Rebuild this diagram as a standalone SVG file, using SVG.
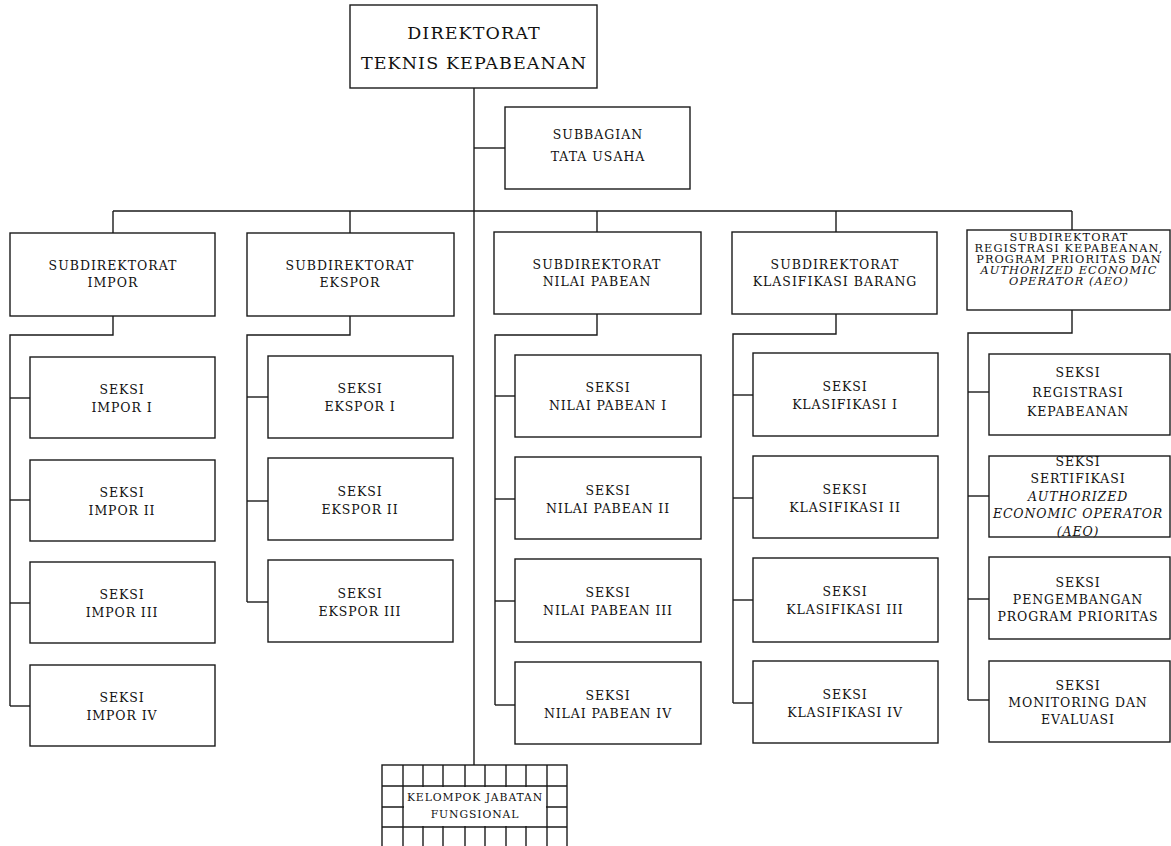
<svg xmlns="http://www.w3.org/2000/svg" width="1171" height="846" viewBox="0 0 1171 846">
  <style>
    .box { fill: #ffffff; stroke: #1a1a1a; stroke-width: 1.4; }
    .ln { fill: none; stroke: #1a1a1a; stroke-width: 1.4; }
    .t { font-family: "DejaVu Serif", "Liberation Serif", serif; fill: #111; text-anchor: middle; }
    .title { font-size: 17.5px; letter-spacing: 1.1px; }
    .sub { font-size: 12.5px; letter-spacing: 1px; }
    .sk { font-size: 12.5px; letter-spacing: 0.9px; }
    .sm { font-size: 11.3px; letter-spacing: 1.1px; }
    .it { font-style: italic; }
  </style>

  <!-- connectors -->
  <g id="connectors">
    <!-- main trunk from the directorate down to the functional group -->
    <line class="ln" x1="474" y1="88" x2="474" y2="765"/>
    <!-- administrative sub-unit -->
    <line class="ln" x1="474" y1="148" x2="505" y2="148"/>
    <!-- horizontal bus to the five sub-directorates -->
    <line class="ln" x1="113" y1="211" x2="1072" y2="211"/>
    <line class="ln" x1="113" y1="211" x2="113" y2="233"/>
    <line class="ln" x1="350" y1="211" x2="350" y2="233"/>
    <line class="ln" x1="597" y1="211" x2="597" y2="232"/>
    <line class="ln" x1="836" y1="211" x2="836" y2="232"/>
    <line class="ln" x1="1072" y1="211" x2="1072" y2="230"/>

    <!-- Impor sections -->
    <polyline class="ln" points="113,316 113,335 10,335 10,706"/>
    <line class="ln" x1="10" y1="398" x2="30" y2="398"/>
    <line class="ln" x1="10" y1="500" x2="30" y2="500"/>
    <line class="ln" x1="10" y1="603" x2="30" y2="603"/>
    <line class="ln" x1="10" y1="706" x2="30" y2="706"/>

    <!-- Ekspor sections -->
    <polyline class="ln" points="350,316 350,335 247,335 247,602"/>
    <line class="ln" x1="247" y1="397" x2="268" y2="397"/>
    <line class="ln" x1="247" y1="501" x2="268" y2="501"/>
    <line class="ln" x1="247" y1="602" x2="268" y2="602"/>

    <!-- Nilai Pabean sections -->
    <polyline class="ln" points="597,314 597,335 495,335 495,705"/>
    <line class="ln" x1="495" y1="396" x2="515" y2="396"/>
    <line class="ln" x1="495" y1="499" x2="515" y2="499"/>
    <line class="ln" x1="495" y1="601" x2="515" y2="601"/>
    <line class="ln" x1="495" y1="705" x2="515" y2="705"/>

    <!-- Klasifikasi sections -->
    <polyline class="ln" points="836,314 836,334 733,334 733,703"/>
    <line class="ln" x1="733" y1="395" x2="753" y2="395"/>
    <line class="ln" x1="733" y1="498" x2="753" y2="498"/>
    <line class="ln" x1="733" y1="600" x2="753" y2="600"/>
    <line class="ln" x1="733" y1="703" x2="753" y2="703"/>

    <!-- Registrasi / AEO sections -->
    <polyline class="ln" points="1072,310 1072,333 968,333 968,700"/>
    <line class="ln" x1="968" y1="392" x2="989" y2="392"/>
    <line class="ln" x1="968" y1="496" x2="989" y2="496"/>
    <line class="ln" x1="968" y1="599" x2="989" y2="599"/>
    <line class="ln" x1="968" y1="700" x2="989" y2="700"/>
  </g>

  <!-- top level -->
  <g id="direktorat">
    <rect class="box" x="350" y="5" width="247" height="83"/>
    <text class="t title" x="474" y="39">DIREKTORAT</text>
    <text class="t title" x="474" y="69">TEKNIS KEPABEANAN</text>
  </g>

  <g id="subbagian-tu">
    <rect class="box" x="505" y="107" width="185" height="82"/>
    <text class="t sub" x="598" y="139">SUBBAGIAN</text>
    <text class="t sub" x="598" y="161">TATA USAHA</text>
  </g>

  <!-- sub-directorates -->
  <g id="subdit-impor">
    <rect class="box" x="10" y="233" width="205" height="83"/>
    <text class="t sub" x="113" y="270">SUBDIREKTORAT</text>
    <text class="t sub" x="113" y="287">IMPOR</text>
  </g>
  <g id="subdit-ekspor">
    <rect class="box" x="247" y="233" width="207" height="83"/>
    <text class="t sub" x="350" y="270">SUBDIREKTORAT</text>
    <text class="t sub" x="350" y="287">EKSPOR</text>
  </g>
  <g id="subdit-nilai-pabean">
    <rect class="box" x="494" y="232" width="207" height="82"/>
    <text class="t sub" x="597" y="269">SUBDIREKTORAT</text>
    <text class="t sub" x="597" y="286">NILAI PABEAN</text>
  </g>
  <g id="subdit-klasifikasi">
    <rect class="box" x="732" y="232" width="205" height="82"/>
    <text class="t sub" x="835" y="269">SUBDIREKTORAT</text>
    <text class="t sub" x="835" y="286">KLASIFIKASI BARANG</text>
  </g>
  <g id="subdit-registrasi">
    <rect class="box" x="967" y="230" width="203" height="80"/>
    <text class="t sm" x="1069" y="241">SUBDIREKTORAT</text>
    <text class="t sm" x="1069" y="252">REGISTRASI KEPABEANAN,</text>
    <text class="t sm" x="1069" y="263">PROGRAM PRIORITAS DAN</text>
    <text class="t sm it" x="1069" y="274">AUTHORIZED ECONOMIC</text>
    <text class="t sm it" x="1069" y="285">OPERATOR (AEO)</text>
  </g>

  <!-- Impor sections -->
  <g id="seksi-impor-1">
    <rect class="box" x="30" y="357" width="185" height="81"/>
    <text class="t sk" x="122" y="394">SEKSI</text>
    <text class="t sk" x="122" y="412">IMPOR I</text>
  </g>
  <g id="seksi-impor-2">
    <rect class="box" x="30" y="460" width="185" height="81"/>
    <text class="t sk" x="122" y="497">SEKSI</text>
    <text class="t sk" x="122" y="515">IMPOR II</text>
  </g>
  <g id="seksi-impor-3">
    <rect class="box" x="30" y="562" width="185" height="81"/>
    <text class="t sk" x="122" y="599">SEKSI</text>
    <text class="t sk" x="122" y="617">IMPOR III</text>
  </g>
  <g id="seksi-impor-4">
    <rect class="box" x="30" y="665" width="185" height="81"/>
    <text class="t sk" x="122" y="702">SEKSI</text>
    <text class="t sk" x="122" y="720">IMPOR IV</text>
  </g>

  <!-- Ekspor sections -->
  <g id="seksi-ekspor-1">
    <rect class="box" x="268" y="356" width="185" height="82"/>
    <text class="t sk" x="360" y="393">SEKSI</text>
    <text class="t sk" x="360" y="411">EKSPOR I</text>
  </g>
  <g id="seksi-ekspor-2">
    <rect class="box" x="268" y="458" width="185" height="82"/>
    <text class="t sk" x="360" y="496">SEKSI</text>
    <text class="t sk" x="360" y="514">EKSPOR II</text>
  </g>
  <g id="seksi-ekspor-3">
    <rect class="box" x="268" y="560" width="185" height="82"/>
    <text class="t sk" x="360" y="598">SEKSI</text>
    <text class="t sk" x="360" y="616">EKSPOR III</text>
  </g>

  <!-- Nilai Pabean sections -->
  <g id="seksi-nilai-pabean-1">
    <rect class="box" x="515" y="355" width="186" height="82"/>
    <text class="t sk" x="608" y="392">SEKSI</text>
    <text class="t sk" x="608" y="410">NILAI PABEAN I</text>
  </g>
  <g id="seksi-nilai-pabean-2">
    <rect class="box" x="515" y="457" width="186" height="82"/>
    <text class="t sk" x="608" y="495">SEKSI</text>
    <text class="t sk" x="608" y="513">NILAI PABEAN II</text>
  </g>
  <g id="seksi-nilai-pabean-3">
    <rect class="box" x="515" y="559" width="186" height="83"/>
    <text class="t sk" x="608" y="597">SEKSI</text>
    <text class="t sk" x="608" y="615">NILAI PABEAN III</text>
  </g>
  <g id="seksi-nilai-pabean-4">
    <rect class="box" x="515" y="662" width="186" height="82"/>
    <text class="t sk" x="608" y="700">SEKSI</text>
    <text class="t sk" x="608" y="718">NILAI PABEAN IV</text>
  </g>

  <!-- Klasifikasi sections -->
  <g id="seksi-klasifikasi-1">
    <rect class="box" x="753" y="353" width="185" height="83"/>
    <text class="t sk" x="845" y="391">SEKSI</text>
    <text class="t sk" x="845" y="409">KLASIFIKASI I</text>
  </g>
  <g id="seksi-klasifikasi-2">
    <rect class="box" x="753" y="456" width="185" height="82"/>
    <text class="t sk" x="845" y="494">SEKSI</text>
    <text class="t sk" x="845" y="512">KLASIFIKASI II</text>
  </g>
  <g id="seksi-klasifikasi-3">
    <rect class="box" x="753" y="558" width="185" height="84"/>
    <text class="t sk" x="845" y="596">SEKSI</text>
    <text class="t sk" x="845" y="614">KLASIFIKASI III</text>
  </g>
  <g id="seksi-klasifikasi-4">
    <rect class="box" x="753" y="661" width="185" height="82"/>
    <text class="t sk" x="845" y="699">SEKSI</text>
    <text class="t sk" x="845" y="717">KLASIFIKASI IV</text>
  </g>

  <!-- Registrasi / AEO sections -->
  <g id="seksi-registrasi">
    <rect class="box" x="989" y="354" width="181" height="81"/>
    <text class="t sk" x="1078" y="377">SEKSI</text>
    <text class="t sk" x="1078" y="397">REGISTRASI</text>
    <text class="t sk" x="1078" y="416">KEPABEANAN</text>
  </g>
  <g id="seksi-sertifikasi-aeo">
    <rect class="box" x="989" y="456" width="181" height="81"/>
    <text class="t sk" x="1078" y="466">SEKSI</text>
    <text class="t sk" x="1078" y="483">SERTIFIKASI</text>
    <text class="t sk it" x="1078" y="501">AUTHORIZED</text>
    <text class="t sk it" x="1078" y="518">ECONOMIC OPERATOR</text>
    <text class="t sk it" x="1078" y="536">(AEO)</text>
  </g>
  <g id="seksi-pengembangan">
    <rect class="box" x="989" y="557" width="181" height="82"/>
    <text class="t sk" x="1078" y="587">SEKSI</text>
    <text class="t sk" x="1078" y="604">PENGEMBANGAN</text>
    <text class="t sk" x="1078" y="621">PROGRAM PRIORITAS</text>
  </g>
  <g id="seksi-monitoring">
    <rect class="box" x="989" y="661" width="181" height="81"/>
    <text class="t sk" x="1078" y="690">SEKSI</text>
    <text class="t sk" x="1078" y="707">MONITORING DAN</text>
    <text class="t sk" x="1078" y="724">EVALUASI</text>
  </g>

  <!-- functional group drawn as a grid block -->
  <g id="kelompok-jabatan-fungsional">
    <rect class="box" x="382" y="765" width="185" height="90"/>
    <g class="ln">
      <line x1="403" y1="765" x2="403" y2="850"/>
      <line x1="423" y1="765" x2="423" y2="850"/>
      <line x1="443" y1="765" x2="443" y2="850"/>
      <line x1="465" y1="765" x2="465" y2="850"/>
      <line x1="485" y1="765" x2="485" y2="850"/>
      <line x1="506" y1="765" x2="506" y2="850"/>
      <line x1="526" y1="765" x2="526" y2="850"/>
      <line x1="547" y1="765" x2="547" y2="850"/>
      <line x1="382" y1="786" x2="567" y2="786"/>
      <line x1="382" y1="807" x2="567" y2="807"/>
      <line x1="382" y1="827" x2="567" y2="827"/>
    </g>
    <rect x="404" y="787" width="142" height="39" fill="#ffffff"/>
    <text class="t" font-size="10.8" letter-spacing="0.9" x="475" y="801">KELOMPOK JABATAN</text>
    <text class="t" font-size="10.8" letter-spacing="0.9" x="475" y="818">FUNGSIONAL</text>
  </g>
</svg>
